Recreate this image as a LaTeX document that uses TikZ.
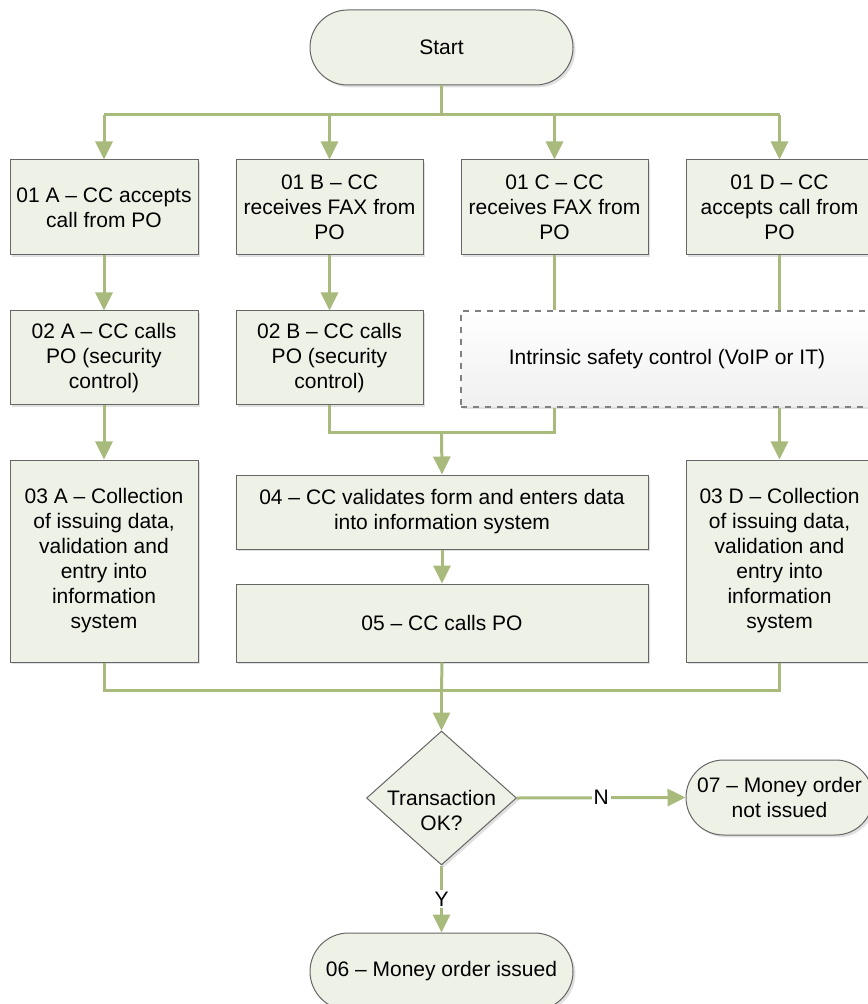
\documentclass[tikz,border=0pt]{standalone}
\usepackage{fontspec}
\setmainfont{Liberation Sans}
\usetikzlibrary{shapes.misc,shapes.geometric,arrows.meta,shadows}
\definecolor{boxfill}{HTML}{EEF1E6}
\definecolor{boxdraw}{HTML}{666666}
\definecolor{linegreen}{HTML}{A8BA7C}
\begin{document}
\begin{tikzpicture}[x=0.5pt,y=-0.5pt,
  every node/.style={font=\fontsize{10.5}{12.5}\selectfont, align=center, inner sep=0pt},
  shad/.style={drop shadow={shadow xshift=1.2pt, shadow yshift=-1.2pt, opacity=0.12, fill=black}},
  procbox/.style={rectangle, draw=boxdraw, line width=0.5pt, fill=boxfill, shad},
  termbox/.style={rounded rectangle, draw=boxdraw, line width=0.5pt, fill=boxfill, shad},
  dashbox/.style={rectangle, draw=gray, dashed, line width=0.6pt, top color=white, bottom color=gray!12, shad},
  decbox/.style={diamond, draw=boxdraw, line width=0.5pt, fill=boxfill, shad, minimum width=75pt, minimum height=67pt},
  conn/.style={draw=linegreen, line width=1.5pt},
  arr/.style={conn, -{Triangle[length=9pt,width=8.5pt]}},
  lbl/.style={fill=white, inner sep=1pt}
]
\useasboundingbox (0,0) rectangle (867,1004);
% terminals
\node[termbox, minimum width=131.5pt, minimum height=37.5pt] (start) at (441.5,47.5) {Start};
% row 1
\node[procbox, minimum width=94pt, minimum height=47.5pt] (A1) at (104,207.5) {01 A -- CC accepts\\call from PO};
\node[procbox, minimum width=93.5pt, minimum height=47.5pt] (B1) at (329.5,207.5) {01 B -- CC\\receives FAX from\\PO};
\node[procbox, minimum width=93.5pt, minimum height=47.5pt] (C1) at (554.5,207.5) {01 C -- CC\\receives FAX from\\PO};
\node[procbox, minimum width=93.5pt, minimum height=47.5pt] (D1) at (779.5,207.5) {01 D -- CC\\accepts call from\\PO};
% row 2
\node[procbox, minimum width=94pt, minimum height=47pt] (A2) at (104,358) {02 A -- CC calls\\PO (security\\control)};
\node[procbox, minimum width=93.5pt, minimum height=47pt] (B2) at (329.5,358) {02 B -- CC calls\\PO (security\\control)};
\node[dashbox, minimum width=206pt, minimum height=48pt] (safe) at (667,359) {Intrinsic safety control (VoIP or IT)};
% row 3
\node[procbox, minimum width=94pt, minimum height=101pt] (A3) at (104,561) {03 A -- Collection\\of issuing data,\\validation and\\entry into\\information\\system};
\node[procbox, minimum width=93.5pt, minimum height=101pt] (D3) at (779.5,561) {03 D -- Collection\\of issuing data,\\validation and\\entry into\\information\\system};
\node[procbox, minimum width=206pt, minimum height=37pt] (s04) at (442,512) {04 -- CC validates form and enters data\\into information system};
\node[procbox, minimum width=206pt, minimum height=39pt] (s05) at (442,623) {05 -- CC calls PO};
% decision
\node[decbox] (dec) at (441.5,798) {};
\node (dectext) at (441.5,810) {Transaction\\OK?};
\node[termbox, minimum width=93.5pt, minimum height=37.5pt] (s07) at (779.5,797.5) {07 -- Money order\\not issued};
\node[termbox, minimum width=131.5pt, minimum height=38.5pt] (s06) at (441.5,971.5) {06 -- Money order issued};
% junction coordinates
\coordinate (bus1) at (441.5,115);
\coordinate (j1) at (441.5,433);
\coordinate (j2) at (441.5,690);
% connectors
\draw[conn] (start.south) -- (bus1);
\draw[conn] (A1.north |- bus1) -- (D1.north |- bus1);
\draw[arr] (A1.north |- bus1) -- (A1.north);
\draw[arr] (B1.north |- bus1) -- (B1.north);
\draw[arr] (C1.north |- bus1) -- (C1.north);
\draw[arr] (D1.north |- bus1) -- (D1.north);
\draw[arr] (A1.south) -- (A2.north);
\draw[arr] (B1.south) -- (B2.north);
\draw[conn] (C1.south) -- (C1.south |- safe.north);
\draw[conn] (D1.south) -- (D1.south |- safe.north);
\draw[conn] (B2.south) -- (B2.south |- j1) -- (C1.south |- j1) -- (C1.south |- safe.south);
\draw[arr] (j1) -- (s04.north);
\draw[arr] (D1.south |- safe.south) -- (D3.north);
\draw[arr] (A2.south) -- (A3.north);
\draw[arr] (s04.south) -- (s05.north);
\draw[conn] (A3.south) -- (A3.south |- j2) -- (D3.south |- j2) -- (D3.south);
\draw[conn] (s05.south) -- (j2);
\draw[arr] (j2) -- (dec.north);
\draw[arr] (dec.east) -- node[lbl] (nlab) {N} (s07.west);
\draw[arr] (dec.south) -- node[lbl] (ylab) {Y} (s06.north);
\end{tikzpicture}
\end{document}
